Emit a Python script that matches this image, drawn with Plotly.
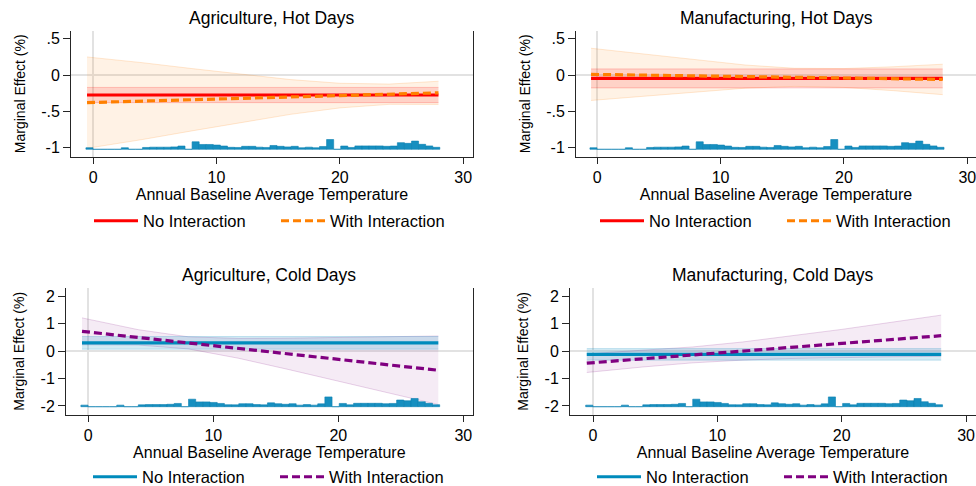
import plotly.graph_objects as go

# Temperature points at which the marginal effects are evaluated
temp_grid = [-0.5, 4, 8, 12, 16, 20, 24, 28]
temp_span = [-0.5, 28]

# Agriculture, hot days
ag_hot_noint = [-0.275, -0.275]
ag_hot_noint_lo = [-0.38, -0.38]
ag_hot_noint_hi = [-0.17, -0.17]
ag_hot_int = [-0.38, -0.359, -0.34, -0.321, -0.302, -0.283, -0.264, -0.245]
ag_hot_int_hi = [0.25, 0.171, 0.09, 0.009, -0.062, -0.113, -0.124, -0.085]
ag_hot_int_lo = [-1.01, -0.889, -0.77, -0.651, -0.542, -0.453, -0.404, -0.405]

# Manufacturing, hot days
mf_hot_noint = [-0.046, -0.046]
mf_hot_noint_lo = [-0.177, -0.177]
mf_hot_noint_hi = [0.085, 0.085]
mf_hot_int = [0.01, -0.001, -0.011, -0.021, -0.031, -0.040, -0.050, -0.060]
mf_hot_int_hi = [0.37, 0.289, 0.209, 0.139, 0.094, 0.09, 0.115, 0.15]
mf_hot_int_lo = [-0.35, -0.291, -0.231, -0.181, -0.156, -0.17, -0.215, -0.27]

# Agriculture, cold days
ag_cold_noint = [0.30, 0.30]
ag_cold_noint_lo = [0.07, 0.07]
ag_cold_noint_hi = [0.53, 0.53]
ag_cold_int = [0.72, 0.50, 0.30, 0.10, -0.10, -0.30, -0.50, -0.70]
ag_cold_int_hi = [1.21, 0.78, 0.52, 0.46, 0.47, 0.49, 0.52, 0.55]
ag_cold_int_lo = [0.23, 0.22, 0.08, -0.26, -0.67, -1.09, -1.52, -1.95]

# Manufacturing, cold days
mf_cold_noint = [-0.12, -0.12]
mf_cold_noint_lo = [-0.33, -0.33]
mf_cold_noint_hi = [0.09, 0.09]
mf_cold_int = [-0.44, -0.282, -0.142, -0.001, 0.139, 0.28, 0.42, 0.56]
mf_cold_int_hi = [-0.10, 0.02, 0.15, 0.33, 0.55, 0.79, 1.05, 1.31]
mf_cold_int_lo = [-0.78, -0.58, -0.43, -0.33, -0.27, -0.23, -0.21, -0.19]

# Distribution of baseline temperature (share of observations per bin, %)
hist_start = -0.59
hist_width = 0.574
hist_share = [1.1, 0, 0, 0, 0, 1.1, 0, 0, 1.3, 1.5,
              1.5, 1.5, 1.7, 2.3, 0, 5.3, 3.4, 3.4, 3.0, 2.3,
              1.4, 1.3, 2.1, 2.1, 1.5, 1.3, 2.7, 2.1, 1.7, 2.1,
              1.1, 1.5, 1.1, 2.0, 6.9, 0, 2.3, 1.3, 2.4, 2.4,
              2.4, 2.4, 2.1, 2.3, 4.7, 4.2, 5.8, 3.5, 2.4, 1.4]
hist_centers = [hist_start + hist_width * (i + 0.5) for i in range(len(hist_share))]

x_ticks = [0, 10, 20, 30]
hot_ticks = [0.5, 0, -0.5, -1]
hot_tick_text = [".5", "0", "-.5", "-1"]
cold_ticks = [2, 1, 0, -1, -2]
cold_tick_text = ["2", "1", "0", "-1", "-2"]

RED = "#ff0000"
ORANGE = "#ff8000"
BLUE = "#008bbc"
PURPLE = "#800080"
FONT = "Liberation Sans, Arial, Helvetica, sans-serif"
AXIS_COL = "#262626"
W, H = 976, 486


def rgba(hex_col, a):
    h = hex_col.lstrip("#")
    r, g, b = int(h[0:2], 16), int(h[2:4], 16), int(h[4:6], 16)
    return f"rgba({r},{g},{b},{a})"


panels = [
    dict(n=1, title="Agriculture, Hot Days", c0=RED, c1=ORANGE, a0=0.13, a1=0.10,
         noint=ag_hot_noint, nlo=ag_hot_noint_lo, nhi=ag_hot_noint_hi,
         inter=ag_hot_int, ilo=ag_hot_int_lo, ihi=ag_hot_int_hi,
         xdom=[71, 473], xr=[-1.8, 30.8], ydom=[30.5, 157], yr=[-1.13, 0.615],
         ticks=hot_ticks, ttext=hot_tick_text, hr=[-5.44, 83.9], right=True,
         leg_x=89, leg_y=221),
    dict(n=2, title="Manufacturing, Hot Days", c0=RED, c1=ORANGE, a0=0.13, a1=0.10,
         noint=mf_hot_noint, nlo=mf_hot_noint_lo, nhi=mf_hot_noint_hi,
         inter=mf_hot_int, ilo=mf_hot_int_lo, ihi=mf_hot_int_hi,
         xdom=[576, 976], xr=[-1.72, 30.7], ydom=[30.5, 157], yr=[-1.13, 0.615],
         ticks=hot_ticks, ttext=hot_tick_text, hr=[-5.44, 83.9], right=False,
         leg_x=595, leg_y=221),
    dict(n=3, title="Agriculture, Cold Days", c0=BLUE, c1=PURPLE, a0=0.17, a1=0.08,
         noint=ag_cold_noint, nlo=ag_cold_noint_lo, nhi=ag_cold_noint_hi,
         inter=ag_cold_int, ilo=ag_cold_int_lo, ihi=ag_cold_int_hi,
         xdom=[66, 472.7], xr=[-1.78, 30.75], ydom=[287.7, 415], yr=[-2.33, 2.31],
         ticks=cold_ticks, ttext=cold_tick_text, hr=[-5.86, 84.0], right=True,
         leg_x=88, leg_y=477),
    dict(n=4, title="Manufacturing, Cold Days", c0=BLUE, c1=PURPLE, a0=0.17, a1=0.08,
         noint=mf_cold_noint, nlo=mf_cold_noint_lo, nhi=mf_cold_noint_hi,
         inter=mf_cold_int, ilo=mf_cold_int_lo, ihi=mf_cold_int_hi,
         xdom=[570, 976], xr=[-1.85, 30.8], ydom=[287.7, 415], yr=[-2.33, 2.31],
         ticks=cold_ticks, ttext=cold_tick_text, hr=[-5.86, 84.0], right=False,
         leg_x=592, leg_y=477),
]

fig = go.Figure()
layout = dict(
    width=W, height=H,
    margin=dict(l=0, r=0, t=0, b=0, autoexpand=False),
    paper_bgcolor="white", plot_bgcolor="white",
    font=dict(family=FONT, color="black", size=16),
    annotations=[],
)

for p in panels:
    n = p["n"]
    xa, ya, ha = f"x{n}", f"y{n}", f"y{n + 4}"
    leg = "legend" if n == 1 else f"legend{n}"

    # confidence band of the interacted model
    fig.add_trace(go.Scatter(x=temp_grid, y=p["ihi"], xaxis=xa, yaxis=ya, mode="lines",
                             line=dict(color=rgba(p["c1"], 0.22), width=0.8),
                             showlegend=False, hoverinfo="skip"))
    fig.add_trace(go.Scatter(x=temp_grid, y=p["ilo"], xaxis=xa, yaxis=ya, mode="lines",
                             line=dict(color=rgba(p["c1"], 0.22), width=0.8),
                             fill="tonexty", fillcolor=rgba(p["c1"], p["a1"]),
                             showlegend=False, hoverinfo="skip"))
    # confidence band of the model without interaction
    fig.add_trace(go.Scatter(x=temp_span, y=p["nhi"], xaxis=xa, yaxis=ya, mode="lines",
                             line=dict(color=rgba(p["c0"], 0.25), width=0.8),
                             showlegend=False, hoverinfo="skip"))
    fig.add_trace(go.Scatter(x=temp_span, y=p["nlo"], xaxis=xa, yaxis=ya, mode="lines",
                             line=dict(color=rgba(p["c0"], 0.25), width=0.8),
                             fill="tonexty", fillcolor=rgba(p["c0"], p["a0"]),
                             showlegend=False, hoverinfo="skip"))
    # point estimates
    fig.add_trace(go.Scatter(x=temp_span, y=p["noint"], xaxis=xa, yaxis=ya, mode="lines",
                             line=dict(color=p["c0"], width=3.2),
                             name="No Interaction", legend=leg))
    fig.add_trace(go.Scatter(x=temp_grid, y=p["inter"], xaxis=xa, yaxis=ya, mode="lines",
                             line=dict(color=p["c1"], width=3.2, dash="8px,4px"),
                             name="With Interaction", legend=leg))
    # temperature distribution along the bottom
    fig.add_trace(go.Bar(x=hist_centers, y=hist_share, xaxis=xa, yaxis=ha,
                         width=hist_width, marker=dict(color="#168fc0",
                                                       line=dict(color="#0a7fb0", width=0.6)),
                         showlegend=False, hoverinfo="skip"))

    x0, x1 = p["xdom"][0] / W, min(p["xdom"][1] / W, 1.0)
    y0, y1 = 1 - p["ydom"][1] / H, 1 - p["ydom"][0] / H
    common_ax = dict(showgrid=False, linecolor=AXIS_COL, linewidth=1, ticks="outside",
                     tickcolor=AXIS_COL, tickfont=dict(size=16, family=FONT, color="black"),
                     zerolinecolor="#e2e2e2", zerolinewidth=1.5, fixedrange=True,
                     ticklabeloverflow="allow")
    layout[f"xaxis{n}"] = dict(common_ax, domain=[x0, x1], anchor=ya, range=p["xr"],
                               tickvals=x_ticks, ticklen=6, showline=True, zeroline=True,
                               title=dict(text="Annual Baseline Average Temperature",
                                          font=dict(size=16, family=FONT), standoff=2))
    layout[f"yaxis{n}"] = dict(common_ax, domain=[y0, y1], anchor=xa, range=p["yr"],
                               tickvals=p["ticks"], ticktext=p["ttext"], ticklen=7,
                               showline=True, zeroline=True,
                               title=dict(text="Marginal Effect (%)",
                                          font=dict(size=14, family=FONT), standoff=12))
    layout[f"yaxis{n + 4}"] = dict(overlaying=ya, anchor=xa, side="right", range=p["hr"],
                                   showgrid=False, zeroline=False, showticklabels=False,
                                   ticks="", showline=p["right"], linecolor=AXIS_COL,
                                   linewidth=1, fixedrange=True)
    layout["annotations"].append(dict(
        text=p["title"], xref="paper", yref="paper",
        x=(p["xdom"][0] + p["xdom"][1]) / 2 / W, y=1 - (p["ydom"][0] - 12.5) / H,
        xanchor="center", yanchor="middle", showarrow=False,
        font=dict(size=17.5, family=FONT, color="black")))
    layout[leg] = dict(orientation="h", x=p["leg_x"] / W, xanchor="left",
                       y=1 - p["leg_y"] / H, yanchor="middle", bgcolor="rgba(0,0,0,0)",
                       font=dict(size=16.5, family=FONT, color="black"),
                       itemwidth=44, entrywidth=128, traceorder="normal")

fig.update_layout(**layout)
fig.write_html("out.html")
